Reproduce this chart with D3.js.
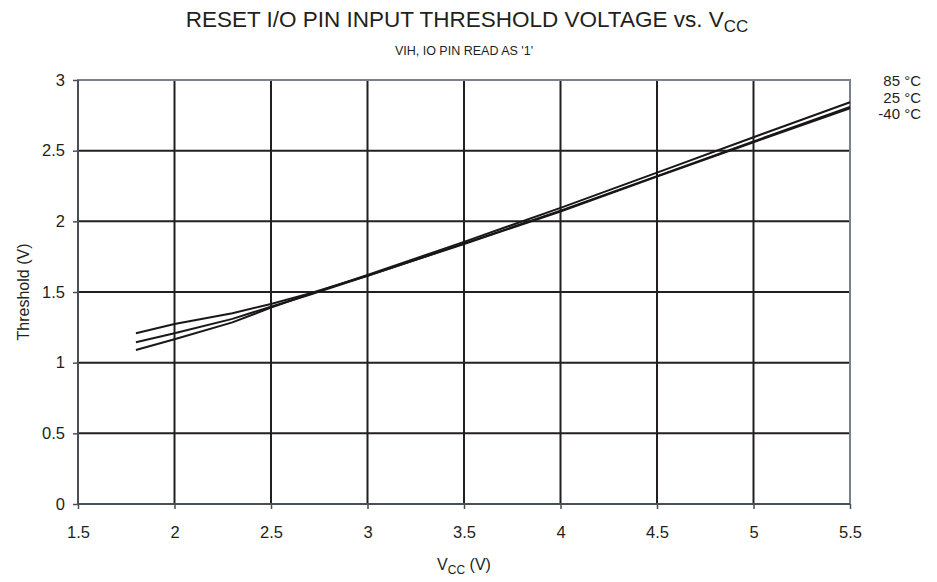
<!DOCTYPE html>
<html><head><meta charset="utf-8">
<script src="https://cdn.jsdelivr.net/npm/d3@7/dist/d3.min.js"></script>
<style>body{margin:0;background:#fff;} text{font-family:Arial,"Liberation Sans",sans-serif;fill:#231f20;}</style>
</head><body>
<svg id="c" width="937" height="582"></svg>
<script>
const vcc = [1.8, 2.0, 2.3, 2.5, 2.7, 3.0, 3.5, 4.0, 4.5, 5.0, 5.5];
const t85 = [1.09, 1.166, 1.285, 1.39, 1.485, 1.62, 1.855, 2.095, 2.345, 2.595, 2.843];
const t25 = [1.144, 1.208, 1.31, 1.396, 1.48, 1.615, 1.842, 2.075, 2.32, 2.565, 2.81];
const tm40 = [1.208, 1.274, 1.35, 1.415, 1.49, 1.615, 1.84, 2.07, 2.316, 2.56, 2.80];
const seriesNames = ["85 °C", "25 °C", "-40 °C"];
const xTicks = [1.5, 2, 2.5, 3, 3.5, 4, 4.5, 5, 5.5];
const yTicks = [0, 0.5, 1, 1.5, 2, 2.5, 3];

const svg = d3.select("#c");
const L = 78, R = 850, T = 80, B = 504;
const x = d3.scaleLinear().domain([1.5, 5.5]).range([L, R]);
const y = d3.scaleLinear().domain([0, 3]).range([B, T]);

svg.append("g").selectAll("line").data(xTicks.slice(1, -1)).join("line")
  .attr("x1", d => x(d)).attr("x2", d => x(d)).attr("y1", T).attr("y2", B)
  .attr("stroke", "#231f20").attr("stroke-width", 2);
svg.append("g").selectAll("line").data(yTicks.slice(1, -1)).join("line")
  .attr("x1", L).attr("x2", R).attr("y1", d => y(d)).attr("y2", d => y(d))
  .attr("stroke", "#231f20").attr("stroke-width", 2);
svg.append("rect").attr("x", L).attr("y", T).attr("width", R - L).attr("height", B - T)
  .attr("fill", "none").attr("stroke", "#7a818a").attr("stroke-width", 2);
svg.append("line").attr("x1", L).attr("x2", R).attr("y1", B).attr("y2", B).attr("stroke", "#4a4f56").attr("stroke-width", 2);
svg.append("line").attr("x1", L).attr("x2", L).attr("y1", T).attr("y2", B).attr("stroke", "#4a4f56").attr("stroke-width", 2);

const xa = svg.append("g").attr("transform", `translate(0,${B})`)
  .call(d3.axisBottom(x).tickValues(xTicks).tickSize(5).tickPadding(17).tickFormat(d3.format("")));
const ya = svg.append("g").attr("transform", `translate(${L},0)`)
  .call(d3.axisLeft(y).tickValues(yTicks).tickSize(5).tickPadding(8).tickFormat(d3.format("")));
[xa, ya].forEach(a => {
  a.select(".domain").remove();
  a.selectAll(".tick line").attr("stroke", "#4a4f56").attr("stroke-width", 1.5);
  a.selectAll("text").attr("font-size", 16.5).attr("fill", "#231f20")
    .attr("font-family", "Arial, 'Liberation Sans', sans-serif");
});

const line = d3.line().x((d, i) => x(vcc[i])).y(d => y(d)).curve(d3.curveLinear);
[t85, t25, tm40].forEach(s => {
  svg.append("path").attr("d", line(s)).attr("fill", "none")
    .attr("stroke", "#1a1718").attr("stroke-width", 2);
});

seriesNames.forEach((n, i) => {
  svg.append("text").attr("x", 921).attr("y", 86 + i * 16.5).attr("text-anchor", "end")
    .attr("font-size", 15).text(n);
});

const tt = svg.append("text").attr("x", 467).attr("y", 27).attr("text-anchor", "middle").attr("font-size", 22.5);
tt.append("tspan").text("RESET I/O PIN INPUT THRESHOLD VOLTAGE vs. V");
tt.append("tspan").attr("font-size", 17).attr("dy", 5).text("CC");
svg.append("text").attr("x", 464).attr("y", 55).attr("text-anchor", "middle").attr("font-size", 12.5)
  .text("VIH, IO PIN READ AS '1'");
const xt = svg.append("text").attr("x", 464).attr("y", 570).attr("text-anchor", "middle").attr("font-size", 16);
xt.append("tspan").text("V");
xt.append("tspan").attr("font-size", 12).attr("dy", 4).text("CC");
xt.append("tspan").attr("dy", -4).text(" (V)");
svg.append("text").attr("transform", `translate(29,${(T + B) / 2}) rotate(-90)`)
  .attr("text-anchor", "middle").attr("font-size", 16).text("Threshold (V)");
</script>
</body></html>
